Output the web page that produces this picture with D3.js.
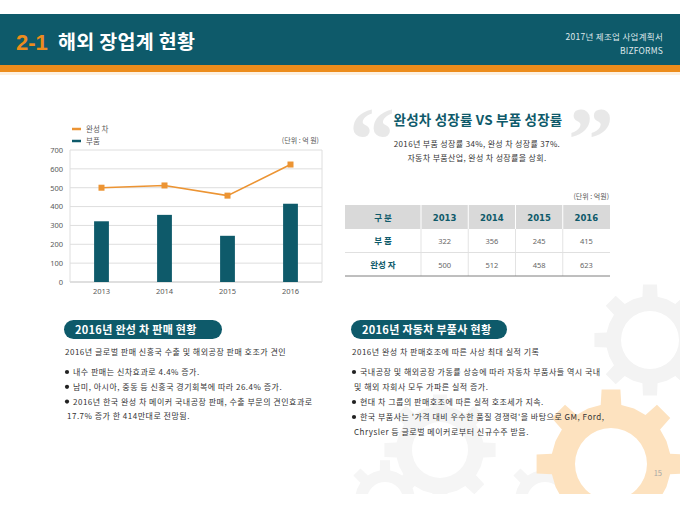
<!DOCTYPE html>
<html><head><meta charset="utf-8">
<script src="https://cdn.jsdelivr.net/npm/d3@7"></script>
<style>
html,body{margin:0;padding:0;background:#fff;}
svg{display:block;font-family:"Noto Sans CJK KR","Noto Sans",sans-serif;}
</style></head>
<body><div id="c"></div>
<script>
// ---- data ----
const years = ["2013", "2014", "2015", "2016"];
const partsValues = [322, 356, 245, 415];      // 부품 (bars)
const carValues = [500, 512, 458, 623];        // 완성 차 (line)
const yTicks = [0, 100, 200, 300, 400, 500, 600, 700];
const seriesNames = ["완성 차", "부품"];
const tableHeader = ["구 분", "2013", "2014", "2015", "2016"];
const tableRowLabels = ["부 품", "완성 자"];
const leftBullets = [
  ["내수 판매는 신차효과로 4.4% 증가."],
  ["남미, 아시아, 중동 등 신흥국 경기회복에 따라 26.4% 증가."],
  ["2016년 한국 완성 차 메이커 국내공장 판매, 수출 부문의 견인효과로", "17.7% 증가 한 414만대로 전망됨."]
];
const rightBullets = [
  ["국내공장 및 해외공장 가동률 상승에 따라 자동차 부품사들 역시 국내", "및 해외 자회사 모두 가파른 실적 증가."],
  ["현대 차 그룹의 판매호조에 따른 실적 호조세가 지속."],
  ["한국 부품사는 '가격 대비 우수한 품질 경쟁력'을 바탕으로 GM, Ford,", "Chrysler 등 글로벌 메이커로부터 신규수주 받음."]
];

const TEAL = "#0e5a6a", ORANGE = "#ec8c1c", TXT = "#333";
const svg = d3.select("#c").append("svg").attr("width", 680).attr("height", 510);

// ---- background gears ----
function gearPath(cx, cy, rIn, rOut, teeth, hole) {
  const p = d3.path();
  const step = Math.PI * 2 / teeth;
  for (let i = 0; i < teeth; i++) {
    const a = i * step - Math.PI / 2;
    const pts = [
      [rIn, a - step * 0.5], [rIn, a - step * 0.22],
      [rOut, a - step * 0.16], [rOut, a + step * 0.16],
      [rIn, a + step * 0.22]
    ];
    pts.forEach((q, j) => {
      const x = cx + q[0] * Math.cos(q[1]), y = cy + q[0] * Math.sin(q[1]);
      if (i === 0 && j === 0) p.moveTo(x, y); else p.lineTo(x, y);
    });
  }
  p.closePath();
  p.moveTo(cx + hole, cy);
  p.arc(cx, cy, hole, 0, Math.PI * 2, true);
  p.closePath();
  return p.toString();
}
svg.append("clipPath").attr("id", "clipbg").append("rect").attr("x", 0).attr("y", 0).attr("width", 680).attr("height", 494);
const bg = svg.append("g").attr("clip-path", "url(#clipbg)");
const gears = [
  {cx: 650, cy: 340, ri: 44, ro: 56, t: 8, h: 29, c: "#f3f3f3"},
  {cx: 440, cy: 450, ri: 44, ro: 56, t: 8, h: 28, c: "#f5f5f5"},
  {cx: 385, cy: 500, ri: 30, ro: 40, t: 8, h: 18, c: "#f5f5f5"},
  {cx: 545, cy: 500, ri: 30, ro: 40, t: 8, h: 18, c: "#f5f5f5"},
  {cx: 611, cy: 464, ri: 60, ro: 75, t: 8, h: 36, c: "#fde2bf"}
];
gears.forEach(g => bg.append("path").attr("d", gearPath(g.cx, g.cy, g.ri, g.ro, g.t, g.h))
  .attr("fill", g.c).attr("fill-rule", "evenodd"));

// ---- header ----
svg.append("rect").attr("x", 0).attr("y", 14).attr("width", 680).attr("height", 52).attr("fill", TEAL);
svg.append("rect").attr("x", 0).attr("y", 65).attr("width", 680).attr("height", 7).attr("fill", ORANGE);
svg.append("rect").attr("x", 0).attr("y", 72).attr("width", 680).attr("height", 3).attr("fill", "#fdf0e0");
svg.append("text").attr("x", 16).attr("y", 50).attr("fill", ORANGE)
  .style("font-family", "'Liberation Sans',Arial,sans-serif").style("font-weight", "bold").style("font-size", "22px").text("2-1");
svg.append("text").attr("x", 58).attr("y", 49).attr("fill", "#fff")
  .style("font-weight", "bold").style("font-size", "19.5px").style("letter-spacing", "0.3px").text("해외 장업계 현황");
svg.append("text").attr("x", 663).attr("y", 40).attr("text-anchor", "end").attr("fill", "#dfe8ea")
  .style("font-size", "8.5px").style("letter-spacing", "0.3px").text("2017년 제조업 사업계획서");
svg.append("text").attr("x", 663).attr("y", 54).attr("text-anchor", "end").attr("fill", "#dfe8ea")
  .style("font-size", "8.5px").style("letter-spacing", "0.2px").text("BIZFORMS");

// ---- combo chart ----
const x = d3.scaleBand().domain(years).range([70, 322]);
const y = d3.scaleLinear().domain([0, 700]).range([282, 150]);
const ch = svg.append("g");
ch.append("g").selectAll("line").data(yTicks).join("line")
  .attr("x1", 70).attr("x2", 322).attr("y1", d => y(d)).attr("y2", d => y(d))
  .attr("stroke", d => d === 0 ? "#bfbfbf" : "#dedede").attr("stroke-width", 1);
ch.append("line").attr("x1", 70).attr("x2", 70).attr("y1", y(700)).attr("y2", y(0)).attr("stroke", "#dedede");
ch.append("line").attr("x1", 322).attr("x2", 322).attr("y1", y(700)).attr("y2", y(0)).attr("stroke", "#dedede");
const yAxis = d3.axisLeft(y).tickValues(yTicks).tickSize(0).tickPadding(7);
ch.append("g").attr("transform", "translate(70,0)").call(yAxis)
  .call(g => g.select(".domain").remove())
  .selectAll("text").attr("fill", "#595959").style("font-size", "7.5px").style("font-family", "'Noto Sans',sans-serif");
const xAxis = d3.axisBottom(x).tickSize(0).tickPadding(7);
ch.append("g").attr("transform", "translate(0,282)").call(xAxis)
  .call(g => g.select(".domain").remove())
  .selectAll("text").attr("fill", "#595959").style("font-size", "7.5px").style("font-family", "'Noto Sans',sans-serif");
const bw = x.bandwidth() * 0.235;
ch.append("g").selectAll("rect").data(partsValues).join("rect")
  .attr("x", (d, i) => x(years[i]) + x.bandwidth() / 2 - bw / 2)
  .attr("width", bw).attr("y", d => y(d)).attr("height", d => y(0) - y(d)).attr("fill", TEAL);
const line = d3.line().x((d, i) => x(years[i]) + x.bandwidth() / 2).y(d => y(d));
ch.append("path").datum(carValues).attr("d", line).attr("fill", "none").attr("stroke", "#ec9433").attr("stroke-width", 1.6);
ch.append("g").selectAll("rect").data(carValues).join("rect")
  .attr("x", (d, i) => x(years[i]) + x.bandwidth() / 2 - 3).attr("y", d => y(d) - 3)
  .attr("width", 6).attr("height", 6).attr("fill", "#ec9433");
// legend
const lg = svg.append("g");
seriesNames.forEach((n, i) => {
  const ly = 129 + i * 12;
  lg.append("line").attr("x1", 72).attr("x2", 81).attr("y1", ly).attr("y2", ly)
    .attr("stroke", i === 0 ? "#ec9433" : TEAL).attr("stroke-width", 2.5);
  lg.append("text").attr("x", 86).attr("y", ly + 3).attr("fill", "#595959").style("font-size", "7.5px").text(n);
});
svg.append("text").attr("x", 319).attr("y", 143).attr("text-anchor", "end").attr("fill", "#595959")
  .style("font-size", "7px").text("(단위 : 억 원)");

// ---- right top: quote title ----
svg.append("text").attr("x", 349).attr("y", 170).attr("fill", "#e8e8e8")
  .style("font-family", "'Liberation Serif',serif").style("font-weight", "bold").style("font-size", "92px").text("\u201C");
svg.append("text").attr("x", 568).attr("y", 170).attr("fill", "#e8e8e8")
  .style("font-family", "'Liberation Serif',serif").style("font-weight", "bold").style("font-size", "92px").text("\u201D");
svg.append("text").attr("x", 478).attr("y", 125).attr("text-anchor", "middle").attr("fill", TEAL)
  .style("font-weight", "bold").style("font-size", "13.5px").style("letter-spacing", "0.2px").text("완성차 성장률 VS 부품 성장률");
svg.append("text").attr("x", 477).attr("y", 147).attr("text-anchor", "middle").attr("fill", TXT)
  .style("font-size", "8px").style("letter-spacing", "0.35px").text("2016년 부품 성장률 34%, 완성 차 성장률 37%.");
svg.append("text").attr("x", 477).attr("y", 161).attr("text-anchor", "middle").attr("fill", TXT)
  .style("font-size", "8px").style("letter-spacing", "0.35px").text("자동차 부품산업, 완성 차 성장률을 상회.");

// ---- table ----
svg.append("text").attr("x", 609).attr("y", 199).attr("text-anchor", "end").attr("fill", "#595959")
  .style("font-size", "7px").text("(단위 : 억원)");
const colX = d3.scaleBand().domain(d3.range(years.length)).range([421, 610]);
const firstX = 345, rowTop = 205, hH = 24, rH = 23.5;
const tb = svg.append("g");
tb.append("rect").attr("x", firstX).attr("y", rowTop).attr("width", 610 - firstX).attr("height", hH).attr("fill", "#d9d9d9");
tb.selectAll(".vsep").data(d3.range(years.length)).join("line")
  .attr("x1", d => colX(d)).attr("x2", d => colX(d)).attr("y1", rowTop).attr("y2", rowTop + hH)
  .attr("stroke", "#fff").attr("stroke-width", 1);
tb.selectAll(".vsep2").data(d3.range(years.length)).join("line")
  .attr("x1", d => colX(d)).attr("x2", d => colX(d)).attr("y1", rowTop + hH).attr("y2", rowTop + hH + 2 * rH)
  .attr("stroke", "#e3e3e3").attr("stroke-width", 1);
tb.append("line").attr("x1", firstX).attr("x2", 610).attr("y1", rowTop + hH + rH).attr("y2", rowTop + hH + rH).attr("stroke", "#e0e0e0");
tb.append("line").attr("x1", firstX).attr("x2", 610).attr("y1", rowTop + hH + 2 * rH).attr("y2", rowTop + hH + 2 * rH).attr("stroke", "#7f7f7f");
tableHeader.forEach((h, i) => {
  const cx = i === 0 ? (firstX + 421) / 2 : colX(i - 1) + colX.bandwidth() / 2;
  tb.append("text").attr("x", cx).attr("y", rowTop + 15.5).attr("text-anchor", "middle").attr("fill", TEAL)
    .style("font-weight", "bold").style("font-size", "8.5px")
    .style("font-family", i === 0 ? null : "'DejaVu Sans','Noto Sans',sans-serif")
    .text(h);
});
[partsValues, carValues].forEach((vals, r) => {
  const ty = rowTop + hH + r * rH + 15;
  tb.append("text").attr("x", (firstX + 421) / 2).attr("y", ty).attr("text-anchor", "middle").attr("fill", TEAL)
    .style("font-weight", "bold").style("font-size", "8.5px").text(tableRowLabels[r]);
  vals.forEach((v, i) => tb.append("text").attr("x", colX(i) + colX.bandwidth() / 2).attr("y", ty)
    .attr("text-anchor", "middle").attr("fill", "#666").style("font-size", "7.5px")
    .style("font-family", "'Noto Sans',sans-serif").text(v));
});

// ---- bottom sections ----
function section(x0, w, title, sub, bullets, lineGap) {
  const g = svg.append("g");
  g.append("rect").attr("x", x0).attr("y", 320).attr("width", w).attr("height", 19).attr("rx", 9.5).attr("fill", TEAL);
  g.append("text").attr("x", x0 + 11).attr("y", 334).attr("fill", "#fff").style("font-weight", "bold")
    .style("font-size", "11px").style("letter-spacing", "0.3px").text(title);
  g.append("text").attr("x", x0 + 1).attr("y", 355).attr("fill", TXT).style("font-size", "8px")
    .style("letter-spacing", "0.5px").text(sub);
  let yy = 375;
  bullets.forEach(b => {
    b.forEach((ln, k) => {
      if (k === 0) {
        g.append("circle").attr("cx", x0 + 3).attr("cy", yy - 3).attr("r", 2.1).attr("fill", "#222");
      }
      g.append("text").attr("x", x0 + (k === 0 ? 9 : 3)).attr("y", yy).attr("fill", TXT).style("font-size", "8px")
        .style("letter-spacing", "0.5px").text(ln);
      yy += lineGap;
    });
  });
}
section(64, 158, "2016년 완성 차 판매 현황", "2016년 글로벌 판매 신흥국 수출 및 해외공장 판매 호조가 견인", leftBullets, 14.8);
section(351, 156, "2016년 자동차 부품사 현황", "2016년 완성 차 판매호조에 따른 사상 최대 실적 기록", rightBullets, 15);

svg.append("text").attr("x", 662).attr("y", 476).attr("text-anchor", "end").attr("fill", "#a6a6a6")
  .style("font-size", "7.5px").text("15");
</script></body></html>
